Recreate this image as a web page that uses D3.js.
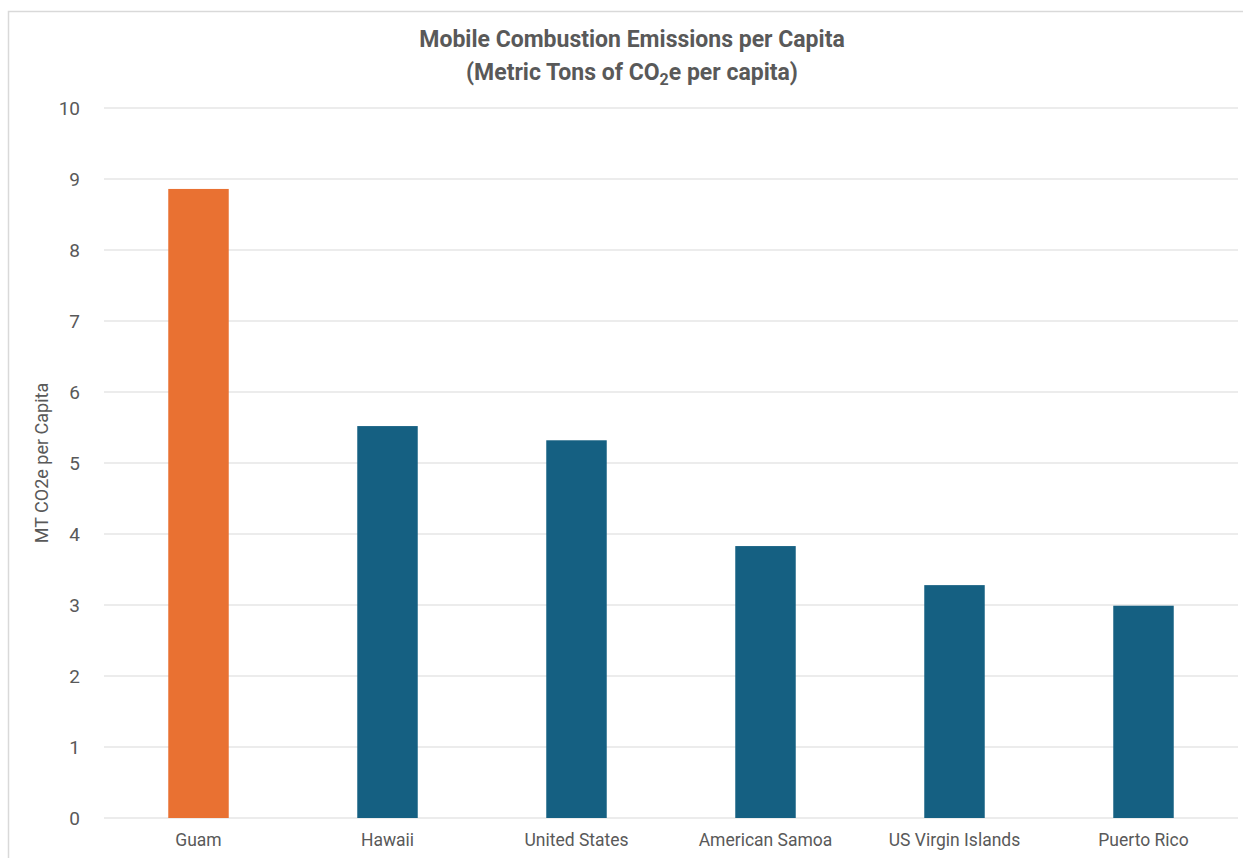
<!DOCTYPE html>
<html>
<head>
<meta charset="utf-8">
<script src="https://cdn.jsdelivr.net/npm/d3@7"></script>
<style>
  body { margin: 0; background: #fff; }
  text { font-family: Roboto, "Open Sans", sans-serif; fill: #595959; }
</style>
</head>
<body>
<div id="chart"></div>
<script>
const regions = ["Guam", "Hawaii", "United States", "American Samoa", "US Virgin Islands", "Puerto Rico"];
const emissions = [8.86, 5.52, 5.32, 3.83, 3.28, 2.99];
const barColors = ["#E97132", "#156082", "#156082", "#156082", "#156082", "#156082"];
const yTicks = [0, 1, 2, 3, 4, 5, 6, 7, 8, 9, 10];

const W = 1243, H = 858;
const margin = { top: 108, right: 5, bottom: 40, left: 104 };
const width = W - margin.left - margin.right;
const height = H - margin.top - margin.bottom;

const root = d3.select("#chart").append("svg")
    .attr("width", W)
    .attr("height", H);

// outer chart border
root.append("rect")
    .attr("x", 8.5).attr("y", 11.5)
    .attr("width", W).attr("height", H)
    .attr("fill", "none")
    .attr("stroke", "#d9d9d9")
    .attr("stroke-width", 1.5);

const svg = root.append("g")
    .attr("transform", `translate(${margin.left}, ${margin.top})`);

const xScale = d3.scaleBand()
    .domain(regions)
    .range([0, width])
    .paddingInner(0.68)
    .paddingOuter(0.34);

const yScale = d3.scaleLinear()
    .domain([0, 10])
    .range([height, 0]);

// gridlines
svg.append("g")
    .selectAll("line")
    .data(yTicks)
    .enter().append("line")
    .attr("x1", 0)
    .attr("x2", width)
    .attr("y1", d => yScale(d))
    .attr("y2", d => yScale(d))
    .attr("stroke", "#d9d9d9")
    .attr("stroke-width", 1);

// bars
svg.selectAll(".bar")
    .data(emissions)
    .enter().append("rect")
    .attr("class", "bar")
    .attr("x", (d, i) => xScale(regions[i]))
    .attr("y", d => yScale(d))
    .attr("width", xScale.bandwidth())
    .attr("height", d => height - yScale(d))
    .attr("fill", (d, i) => barColors[i]);

// Y axis
const yAxis = svg.append("g")
    .call(d3.axisLeft(yScale).tickValues(yTicks).tickSize(0).tickPadding(24));
yAxis.select(".domain").remove();
yAxis.selectAll("text")
    .style("font-size", "19px")
    .style("fill", "#595959");

// X axis
const xAxis = svg.append("g")
    .attr("transform", `translate(0, ${height})`)
    .call(d3.axisBottom(xScale).tickSize(0).tickPadding(16));
xAxis.select(".domain").remove();
xAxis.selectAll("text")
    .style("font-size", "17.5px")
    .style("fill", "#595959");

// Y axis title
svg.append("text")
    .attr("transform", "rotate(-90)")
    .attr("x", -height / 2)
    .attr("y", -56)
    .style("text-anchor", "middle")
    .style("font-size", "18px")
    .text("MT CO2e per Capita");

// title
const title = root.append("text")
    .attr("x", 632)
    .attr("y", 47)
    .style("text-anchor", "middle")
    .style("font-size", "23px")
    .style("font-weight", "bold");
title.append("tspan").text("Mobile Combustion Emissions per Capita");

const sub = root.append("text")
    .attr("x", 632)
    .attr("y", 80)
    .style("text-anchor", "middle")
    .style("font-size", "23px")
    .style("font-weight", "bold");
sub.append("tspan").text("(Metric Tons of CO");
sub.append("tspan").attr("dy", 5).style("font-size", "16px").text("2");
sub.append("tspan").attr("dy", -5).text("e per capita)");
</script>
</body>
</html>
